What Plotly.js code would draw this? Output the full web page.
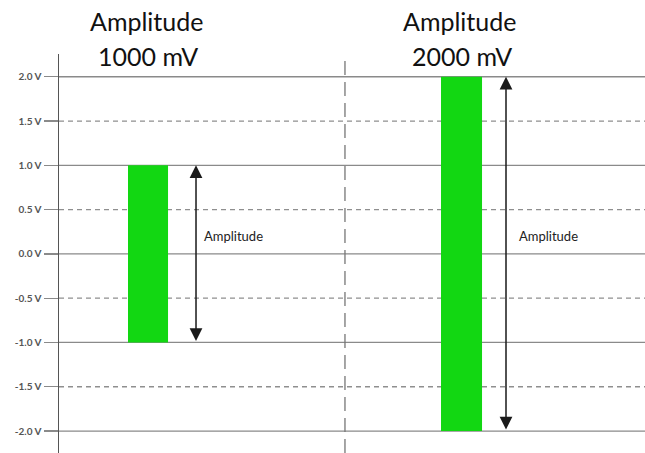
<!DOCTYPE html>
<html>
<head>
<meta charset="utf-8">
<script src="https://cdn.plot.ly/plotly-3.0.1.min.js"></script>
<style>html,body{margin:0;padding:0;background:#fff;}#chart{width:645px;height:453px;}</style>
</head>
<body>
<div id="chart"></div>
<script>
// Data
const amplitudesMv = [1000, 2000];
const titleLines1 = ["Amplitude", "Amplitude"];
const titleLines2 = ["1000 mV", "2000 mV"];
const barX = [15.19, 68.69];          // horizontal position of each bar (x axis units 0-100)
const titleX = [14.9, 68.4];
const arrowX = [23.38, 76.28];        // horizontal position of each amplitude arrow
const labelX = [24.4, 78.1];          // left edge of the "Amplitude" labels
const labelY = [0.2, 0.2];
const arrowLabel = "Amplitude";
const dividerX = 48.8;
const tickVals = [2.0, 1.5, 1.0, 0.5, 0.0, -0.5, -1.0, -1.5, -2.0];
const tickText = ["2.0 V", "1.5 V", "1.0 V", "0.5 V", "0.0 V", "-0.5 V", "-1.0 V", "-1.5 V", "-2.0 V"];

const ampV = amplitudesMv.map(a => a / 1000);

const trace = {
  type: 'bar',
  x: barX,
  y: ampV.map(a => 2 * a),
  base: ampV.map(a => -a),
  width: [6.83, 7.0],
  marker: {color: '#12d712', line: {width: 0}},
  hoverinfo: 'skip'
};

const shapes = [];
tickVals.forEach(v => {
  const solid = Math.abs(v - Math.round(v)) < 1e-9;
  shapes.push({
    type: 'line', xref: 'paper', yref: 'y', x0: 0, x1: 1, y0: v, y1: v,
    layer: 'below',
    line: {color: solid ? '#8a8a8a' : '#8f8f8f', width: 1.3, dash: solid ? 'solid' : '5px,4px'}
  });
});
shapes.push({
  type: 'line', xref: 'x', yref: 'paper', x0: dividerX, x1: dividerX, y0: 0, y1: 1,
  layer: 'below',
  line: {color: '#777', width: 1.3, dash: '14px,7px'}
});

const plotH = 453 - 54;
const layout = {
  width: 645, height: 453,
  margin: {l: 59, r: 0, t: 54, b: 0, pad: 0},
  paper_bgcolor: '#fff', plot_bgcolor: '#fff',
  showlegend: false,
  xaxis: {range: [0, 100], showgrid: false, zeroline: false, showticklabels: false, ticks: '', showline: false, fixedrange: true},
  yaxis: {
    range: [-2.248, 2.257], tickvals: tickVals, ticktext: tickText,
    showgrid: false, zeroline: false, showline: true, linecolor: '#555', linewidth: 1.5,
    ticks: 'outside', ticklen: 14, tickcolor: '#8a8a8a', tickwidth: 1.3,
    tickfont: {family: 'Lato', size: 10, color: '#555', weight: 'bold'}
  },
  shapes: shapes,
  annotations: []
};

ampV.forEach((a, i) => {
  layout.annotations.push({
    x: titleX[i], xref: 'x', y: 1 + (54 - 31.7) / plotH, yref: 'paper', yanchor: 'bottom', yshift: -6,
    text: titleLines1[i], showarrow: false, xanchor: 'center',
    font: {family: 'Lato', size: 25, color: '#111'}
  });
  layout.annotations.push({
    x: titleX[i] + 0.3, xref: 'x', y: 1 + (54 - 66.7) / plotH, yref: 'paper', yanchor: 'bottom', yshift: -6,
    text: titleLines2[i], showarrow: false, xanchor: 'center',
    font: {family: 'Lato', size: 25, color: '#111'}
  });
  layout.annotations.push({
    x: arrowX[i], y: a, ax: arrowX[i], ay: -a, xref: 'x', yref: 'y', axref: 'x', ayref: 'y',
    text: '', showarrow: true, arrowhead: 2, startarrowhead: 2, arrowside: 'end+start',
    arrowsize: 1.7, startarrowsize: 1.7, arrowwidth: 1.5, arrowcolor: '#1a1a1a', standoff: 0, startstandoff: 0
  });
  layout.annotations.push({
    x: labelX[i], y: labelY[i], xref: 'x', yref: 'y', xanchor: 'left', yanchor: 'middle',
    text: arrowLabel, showarrow: false,
    font: {family: 'Lato', size: 13, color: '#222'}
  });
});

Plotly.newPlot('chart', [trace], layout, {displayModeBar: false, staticPlot: true});
</script>
</body>
</html>
